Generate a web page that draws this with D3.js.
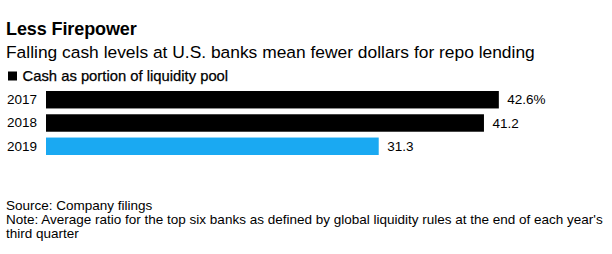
<!DOCTYPE html>
<html>
<head>
<meta charset="utf-8">
<script src="https://cdn.jsdelivr.net/npm/d3@7"></script>
<style>
  body { margin: 0; background: #fff; }
  text { font-family: "Liberation Sans", Arial, Helvetica, sans-serif; fill: #000; }
</style>
</head>
<body>
<script>
var years = ["2017", "2018", "2019"];
var cashShare = [42.6, 41.2, 31.3];
var valueLabels = ["42.6%", "41.2", "31.3"];
var barColors = ["#000000", "#000000", "#1aa9f2"];

var width = 612, height = 254;

var svg = d3.select("body").append("svg")
    .attr("width", width)
    .attr("height", height);

// header
svg.append("text")
    .attr("x", 6).attr("y", 35)
    .style("font-size", "18px").style("font-weight", "bold")
    .style("letter-spacing", "-0.1px")
    .text("Less Firepower");

svg.append("text")
    .attr("x", 6).attr("y", 57.5)
    .style("font-size", "17.4px")
    .text("Falling cash levels at U.S. banks mean fewer dollars for repo lending");

// legend
svg.append("rect")
    .attr("x", 8).attr("y", 71.5)
    .attr("width", 9).attr("height", 9)
    .attr("fill", "#000");

svg.append("text")
    .attr("x", 22.5).attr("y", 80.5)
    .style("font-size", "14.8px")
    .style("stroke", "#000").style("stroke-width", "0.25px")
    .text("Cash as portion of liquidity pool");

// bars
var xScale = d3.scaleLinear().domain([0, 50]).range([46, 46 + 50 * 10.63]);
var yScale = d3.scaleBand().domain(years).range([91, 155]).paddingInner(0.25).paddingOuter(0);

var rows = years.map(function(y, i) { return {year: y, value: cashShare[i], label: valueLabels[i], color: barColors[i]}; });

var yAxis = d3.axisLeft(yScale).tickSize(0).tickPadding(0);
svg.append("g")
    .attr("class", "y axis")
    .attr("transform", "translate(37,0)")
    .call(yAxis)
    .call(function(g) { g.select(".domain").remove(); })
    .selectAll("text")
    .attr("x", 0)
    .style("font-size", "13.5px")
    .style("font-family", "'Liberation Sans', Arial, sans-serif")
    .attr("fill", "#000");

svg.append("g")
    .selectAll("rect")
    .data(rows)
    .enter()
    .append("rect")
    .attr("x", xScale(0))
    .attr("y", function(d) { return yScale(d.year); })
    .attr("width", function(d) { return xScale(d.value) - xScale(0); })
    .attr("height", yScale.bandwidth())
    .attr("fill", function(d) { return d.color; });

svg.append("g")
    .selectAll("text")
    .data(rows)
    .enter()
    .append("text")
    .attr("x", function(d) { return xScale(d.value) + 8.5; })
    .attr("y", function(d) { return yScale(d.year) + yScale.bandwidth() / 2; })
    .attr("dy", "0.35em")
    .style("font-size", "13.5px")
    .text(function(d) { return d.label; });

// footer
svg.append("text")
    .attr("x", 6).attr("y", 210)
    .style("font-size", "13.5px")
    .text("Source: Company filings");

var note = svg.append("text")
    .attr("x", 6).attr("y", 224)
    .style("font-size", "13.5px");
note.append("tspan").attr("x", 6).attr("dy", 0)
    .text("Note: Average ratio for the top six banks as defined by global liquidity rules at the end of each year's");
note.append("tspan").attr("x", 6).attr("dy", 14.3)
    .text("third quarter");
</script>
</body>
</html>
